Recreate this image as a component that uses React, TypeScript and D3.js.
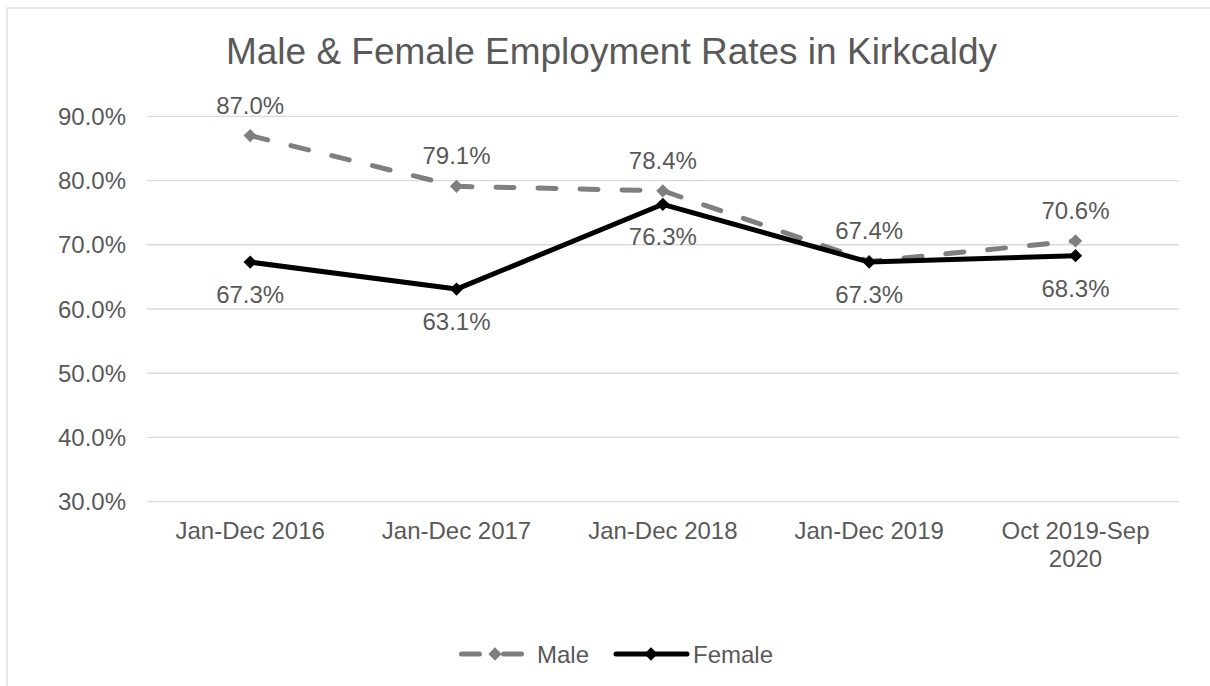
import React from "react";
import * as d3 from "d3";

const title = "Male & Female Employment Rates in Kirkcaldy";
const categories = ["Jan-Dec 2016", "Jan-Dec 2017", "Jan-Dec 2018", "Jan-Dec 2019", "Oct 2019-Sep 2020"];
const maleValues = [0.87, 0.791, 0.784, 0.674, 0.706];
const femaleValues = [0.673, 0.631, 0.763, 0.673, 0.683];
const yTicks = [0.3, 0.4, 0.5, 0.6, 0.7, 0.8, 0.9];
const seriesNames = ["Male", "Female"];

const W = 1210;
const H = 686;
const FONT = "'Liberation Sans', Arial, sans-serif";
const TEXT = "#595959";
const GRID = "#d9d9d9";
const MALE = "#7f7f7f";
const FEMALE = "#000000";

function wrap(text: string, maxWidth: number, font: string): string[] {
  const canvas = document.createElement("canvas");
  const ctx = canvas.getContext("2d");
  if (!ctx) return [text];
  ctx.font = font;
  const words = text.split(" ");
  const lines: string[] = [];
  let cur = "";
  for (const w of words) {
    const t = cur ? cur + " " + w : w;
    if (ctx.measureText(t).width > maxWidth && cur) {
      lines.push(cur);
      cur = w;
    } else cur = t;
  }
  if (cur) lines.push(cur);
  return lines;
}

export default function App() {
  const x = d3.scalePoint<string>().domain(categories).range([147, 1178.7]).padding(0.5);
  const y = d3.scaleLinear().domain([0.3, 0.9]).range([501.7, 116.3]);
  const line = d3.line<number>().x((_, i) => x(categories[i])!).y((v) => y(v));
  const fmt = d3.format(".1%");
  const diamond = d3.symbol(d3.symbolSquare, 88)()!;
  const band = x.step();

  const series = [
    { name: seriesNames[0], values: maleValues, color: MALE, dash: "18 24", labelDy: -22 },
    { name: seriesNames[1], values: femaleValues, color: FEMALE, dash: undefined, labelDy: 41 },
  ];

  const legendItems = [
    { name: seriesNames[0], color: MALE, dash: "18 24", x0: 461.5, x1: 521.5, mx: 495, tx: 537 },
    { name: seriesNames[1], color: FEMALE, dash: undefined, x0: 616, x1: 687, mx: 651, tx: 693 },
  ];

  return (
    <svg
      width={W}
      height={H}
      style={{ position: "absolute", left: 0, top: 0, background: "#fff" }}
      fontFamily={FONT}
    >
      <rect x={7} y={8} width={W + 10} height={H + 10} fill="#fff" stroke={GRID} strokeWidth={1.3} />
      <text x={611.5} y={64} textAnchor="middle" fontSize={37} fill={TEXT}>
        {title}
      </text>
      {yTicks.map((t) => (
        <g key={t}>
          <line x1={147} x2={1178.7} y1={y(t)} y2={y(t)} stroke={GRID} strokeWidth={1.3} />
          <text x={126} y={y(t) + 8.5} textAnchor="end" fontSize={24} fill={TEXT}>
            {fmt(t)}
          </text>
        </g>
      ))}
      {categories.map((c) => {
        const lines = wrap(c, band - 12, `24px ${FONT}`);
        return (
          <text key={c} x={x(c)} y={539} textAnchor="middle" fontSize={24} fill={TEXT}>
            {lines.map((l, i) => (
              <tspan key={i} x={x(c)} dy={i === 0 ? 0 : 28}>
                {l}
              </tspan>
            ))}
          </text>
        );
      })}
      {series.map((s) => (
        <g key={s.name}>
          <path
            d={line(s.values)!}
            fill="none"
            stroke={s.color}
            strokeWidth={5}
            strokeDasharray={s.dash}
            strokeLinecap="round"
            strokeLinejoin="round"
          />
          {s.values.map((v, i) => (
            <path
              key={i}
              d={diamond}
              transform={`translate(${x(categories[i])},${y(v)}) rotate(45)`}
              fill={s.color}
            />
          ))}
        </g>
      ))}
      {series.map((s) =>
        s.values.map((v, i) => (
          <text
            key={s.name + i}
            x={x(categories[i])}
            y={y(v) + s.labelDy}
            textAnchor="middle"
            fontSize={24}
            fill={TEXT}
          >
            {fmt(v)}
          </text>
        ))
      )}
      {legendItems.map((l) => (
        <g key={l.name}>
          <line
            x1={l.x0}
            x2={l.x1}
            y1={654}
            y2={654}
            stroke={l.color}
            strokeWidth={5}
            strokeDasharray={l.dash}
            strokeLinecap="round"
          />
          <path d={diamond} transform={`translate(${l.mx},654) rotate(45)`} fill={l.color} />
          <text x={l.tx} y={662.5} fontSize={24} fill={TEXT}>
            {l.name}
          </text>
        </g>
      ))}
    </svg>
  );
}
